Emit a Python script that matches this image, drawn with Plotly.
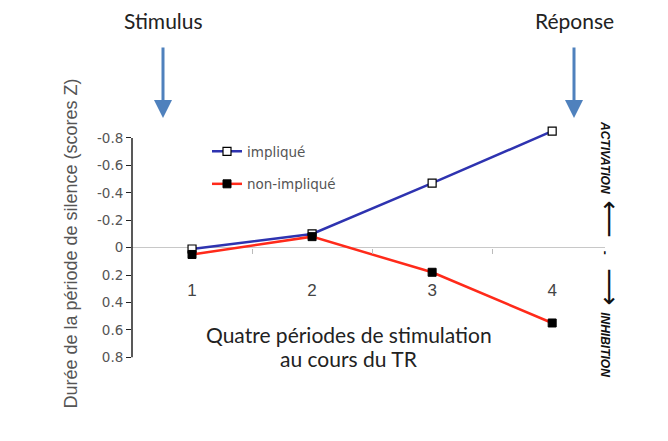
import plotly.graph_objects as go

periods = [1, 2, 3, 4]
implique = [0.01, -0.10, -0.47, -0.85]
non_implique = [0.05, -0.08, 0.18, 0.55]
y_ticks = [-0.8, -0.6, -0.4, -0.2, 0, 0.2, 0.4, 0.6, 0.8]
y_ticktext = ["-0.8", "-0.6", "-0.4", "-0.2", "0", "0.2", "0.4", "0.6", "0.8"]

W, H = 668, 441
ML, MR, MT, MB = 132, 63, 127, 81
PW, PH = W - ML - MR, H - MT - MB
Y_RANGE = [0.82, -0.88]

def px(x):
    return (x - ML) / PW

def py(y):
    return (H - MB - y) / PH

fig = go.Figure()
fig.add_trace(go.Scatter(
    x=periods, y=implique, name="impliqué", mode="lines+markers",
    line=dict(color="#2e33b0", width=2.5),
    marker=dict(symbol="square", size=8, color="white", line=dict(color="black", width=1.2)),
    legendgroup="a", cliponaxis=False))
fig.add_trace(go.Scatter(
    x=periods, y=non_implique, name="non-impliqué", mode="lines+markers",
    line=dict(color="#ff2a1a", width=2.5),
    marker=dict(symbol="square", size=8, color="black", line=dict(color="black", width=1)),
    legendgroup="b", cliponaxis=False))

fig.update_layout(
    width=W, height=H, margin=dict(l=ML, r=MR, t=MT, b=MB),
    paper_bgcolor="white", plot_bgcolor="white",
    font=dict(family="Liberation Sans, Arial", color="#555"),
    showlegend=True,
    legend=dict(x=px(207), y=py(136), xanchor="left", yanchor="top",
                font=dict(family="DejaVu Sans", size=13.5, color="#555"), tracegroupgap=12,
                bgcolor="rgba(0,0,0,0)"),
    xaxis=dict(range=[0.5, 4.44], anchor="free", position=Y_RANGE[0] / (Y_RANGE[0] - Y_RANGE[1]),
               tickvals=periods, ticktext=[str(p) for p in periods],
               showgrid=False, showline=False, zeroline=False, ticks="",
               ticklabelstandoff=30,
               tickfont=dict(size=17, color="#444"),
               minor=dict(tickvals=[1.5, 2.5, 3.5], ticks="outside", ticklen=5,
                          tickcolor="#bbb", tickwidth=1)),
    yaxis=dict(range=Y_RANGE, tickvals=y_ticks, ticktext=y_ticktext,
               showgrid=False, zeroline=True, zerolinecolor="#c8c8c8", zerolinewidth=1,
               showline=False,
               ticks="outside", ticklen=5, tickcolor="#222", tickwidth=1.2,
               tickfont=dict(family="DejaVu Sans", size=13.5, color="#555"),
               title=dict(text="Durée de la période de silence (scores Z)",
                          font=dict(size=18, color="#555"), standoff=14)),
)

# y-axis line spanning the tick range only
fig.add_shape(type="line", xref="paper", yref="y", x0=0, x1=0,
              y0=y_ticks[0], y1=y_ticks[-1], line=dict(color="#222", width=1.5))

arrow_color = "#4f81bd"
for xp, label in [(163, "Stimulus"), (574, "Réponse")]:
    fig.add_annotation(xref="paper", yref="paper", x=px(xp), y=py(118),
                       ax=0, ay=-72, showarrow=True, arrowhead=2, arrowsize=1.2,
                       arrowwidth=3, arrowcolor=arrow_color, text="")
    fig.add_annotation(xref="paper", yref="paper", x=px(xp), y=py(20),
                       xanchor="center", yanchor="middle", showarrow=False,
                       text=label, font=dict(family="Lato", size=21, color="#222"))

for yp, line in [(334, "Quatre périodes de stimulation"), (358, "au cours du TR")]:
    fig.add_annotation(xref="paper", yref="paper", x=px(349), y=py(yp),
                       xanchor="center", yanchor="middle", showarrow=False,
                       text=line, font=dict(family="Lato", size=21, color="#222"))

big = '<span style="font-size:26px;font-family:DejaVu Sans">'
sp = "&nbsp;"
side_text = ("<b><i>ACTIVATION</i></b>" + sp * 2 + big + "⟵</span>" + sp * 4 + "<b>-</b>" + sp * 4
             + big + "⟶</span>" + sp * 2 + "<b><i>INHIBITION</i></b>")
fig.add_annotation(xref="paper", yref="paper", x=px(610), y=py(249),
                   xanchor="center", yanchor="middle", showarrow=False, textangle=90,
                   text=side_text,
                   font=dict(family="Liberation Sans", size=12, color="#111"))

fig.write_html("out.html")
